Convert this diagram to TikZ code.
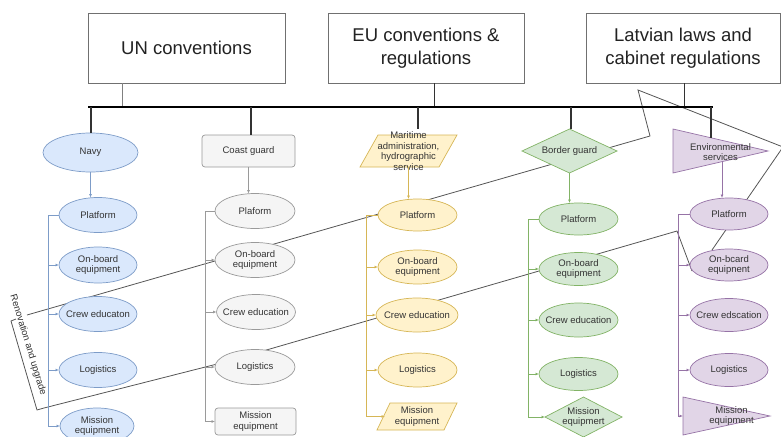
\documentclass[tikz,border=0pt]{standalone}
\usepackage{fontspec}
\setmainfont{Liberation Sans}
\usetikzlibrary{shapes.geometric,arrows.meta,calc}
\definecolor{bluef}{HTML}{DAE8FC}\definecolor{blued}{HTML}{7D9CC8}
\definecolor{grayf}{HTML}{F5F5F5}\definecolor{grayd}{HTML}{9A9A9A}
\definecolor{yelf}{HTML}{FFF2CC}\definecolor{yeld}{HTML}{D6B656}
\definecolor{grnf}{HTML}{D5E8D4}\definecolor{grnd}{HTML}{82B366}
\definecolor{purf}{HTML}{E1D5E7}\definecolor{purd}{HTML}{9673A6}
\definecolor{txtc}{HTML}{333333}\definecolor{toptxt}{HTML}{222222}
\definecolor{topd}{HTML}{707070}\definecolor{brkc}{HTML}{555555}
\definecolor{dropc}{HTML}{333333}
\begin{document}
\begin{tikzpicture}[x=1pt,y=-1pt,
  tx/.style={font=\fontsize{9.5}{10.5}\selectfont,text=txtc,align=center,inner sep=0pt},
  topbox/.style={draw=topd,line width=0.8pt,fill=white,font=\fontsize{18.5}{23}\selectfont,text=toptxt,align=center,inner sep=0pt},
  shp/.style={inner sep=0pt,outer sep=0pt,line width=0.7pt},
  ell/.style={shp,ellipse},
  ghost/.style={inner sep=0pt,outer sep=0pt},
  cA/.style={draw=blued,fill=bluef},
  cB/.style={draw=grayd,fill=grayf},
  cC/.style={draw=yeld,fill=yelf},
  cD/.style={draw=grnd,fill=grnf},
  cE/.style={draw=purd,fill=purf},
  lA/.style={draw=blued,line width=0.7pt},
  lB/.style={draw=grayd,line width=0.7pt},
  lC/.style={draw=yeld,line width=0.7pt},
  lD/.style={draw=grnd,line width=0.7pt},
  lE/.style={draw=purd,line width=0.7pt},
  tip/.style={-{Latex[length=3.5pt,width=3pt]}},
  brk/.style={draw=brkc,line width=0.8pt},
  bus/.style={line width=2.6pt,draw=black},
  drop/.style={line width=1.4pt,draw=dropc},
  updrop/.style={line width=0.9pt,draw=#1},
]
\useasboundingbox (0,0) rectangle (781,436);
\clip (0,0) rectangle (781,436);

% ---- renovation bracket (behind everything) ----
\coordinate (ta) at (27,315); \coordinate (tb) at (650,136);
\coordinate (tc) at (638,90); \coordinate (td) at (783,147);
\coordinate (te) at (712,250);
\coordinate (ka) at (16,319); \coordinate (kb) at (11,321);
\coordinate (kc) at (37,410); \coordinate (ba) at (44,408);
\coordinate (bm) at (225,362);
\coordinate (bb) at (677,231); \coordinate (bc) at (692,271);
\draw[brk] (ta) -- (tb) -- (tc) -- (td) -- (te);
\draw[brk] (ka) -- (kb) -- (kc) -- (ba) -- (bm) -- (bb) -- (bc);
\node[tx,rotate=-73] (ren) at (28,345) {Renovation and upgrade};

% ---- top boxes and bus ----
\node[topbox,minimum width=197pt,minimum height=70pt] (un) at (186.5,48) {UN conventions};
\node[topbox,minimum width=196pt,minimum height=70pt] (eu) at (426,48) {EU conventions \&\\regulations};
\node[topbox,minimum width=194pt,minimum height=70pt] (lv) at (683,48) {Latvian laws and\\cabinet regulations};
\coordinate (busL) at (88,107); \coordinate (busR) at (713,107);
\coordinate (u1) at (122,107); \coordinate (u2) at (434,107); \coordinate (u3) at (684,107);
\draw[updrop=gray] (u1 |- un.south) -- (u1);
\draw[updrop=dropc] (u2 |- eu.south) -- (u2);
\draw[updrop=dropc] (u3 |- lv.south) -- (u3);
\draw[bus] (busL) -- (busR);

% ---- heads ----
\node[ell,cA,minimum width=95pt,minimum height=39pt,label={[tx]center:Navy}] (navy) at (90.5,152.5) {};
\node[shp,cB,rounded corners=3pt,minimum width=93pt,minimum height=32pt,label={[tx]center:Coast guard}] (coast) at (248.5,151) {};
\node[ghost,minimum width=97pt,minimum height=32pt] (mar) at (408.5,151) {};
\filldraw[shp,cC] ($(mar.north west)+(18,0)$) -- (mar.north east) -- ($(mar.south east)-(18,0)$) -- (mar.south west) -- cycle;
\node[tx] (martx) at (mar.center) {Maritime\\administration,\\hydrographic\\service};
\node[shp,cD,diamond,minimum width=95pt,minimum height=44pt,label={[tx]center:Border guard}] (bord) at (569.5,151) {};
\node[ghost,minimum width=95pt,minimum height=44pt] (env) at (720.5,151) {};
\filldraw[shp,cE] (env.north west) -- (env.east) -- (env.south west) -- cycle;
\node[tx] (envtx) at ($(env.center)+(0,1)$) {Environmental\\services};

\coordinate (h1) at (91,107); \coordinate (h2) at (251,107); \coordinate (h3) at (418,107);
\coordinate (h4) at (571,107); \coordinate (h5) at (711,107);
\coordinate (h3e) at (418,129); \coordinate (h5e) at (711,138);
\draw[drop] (h1) -- (h1 |- navy.north);
\draw[drop] (h2) -- (h2 |- coast.north);
\draw[drop] (h3) -- (h3e);
\draw[drop] (h4) -- (h4 |- bord.north);
\draw[drop] (h5) -- (h5e);

% ---- column 1 (blue) ----
\node[ell,cA,minimum width=78pt,minimum height=35pt,label={[tx]center:Platform}] (p1) at (98,215) {};
\node[ell,cA,minimum width=78pt,minimum height=36pt,label={[tx]center:{On-board\\equipment}}] (o1) at (98,265) {};
\node[ell,cA,minimum width=78pt,minimum height=35pt,label={[tx]center:Crew educaton}] (e1) at (98,314) {};
\node[ell,cA,minimum width=78pt,minimum height=35pt,label={[tx]center:Logistics}] (g1) at (98,370) {};
\node[ell,cA,minimum width=74pt,minimum height=36pt,label={[tx]center:{Mission\\equipment}}] (m1) at (97,426) {};
\coordinate (v1) at (48,0);
\draw[lA,tip] (navy.south) -- (navy.south |- p1.north);
\draw[lA] (p1.west) -| (v1 |- m1.west);
\foreach \n in {o1,e1,g1,m1} \draw[lA,tip] (v1 |- \n.west) -- (\n.west);

% ---- column 2 (gray) ----
\node[ell,cB,minimum width=80pt,minimum height=35pt,label={[tx]center:Plaform}] (p2) at (255,211) {};
\node[ell,cB,minimum width=80pt,minimum height=35pt,label={[tx]center:{On-board\\equipment}}] (o2) at (255,260) {};
\node[ell,cB,minimum width=79pt,minimum height=35pt,label={[tx]center:Crew education}] (e2) at (256,312) {};
\node[ell,cB,minimum width=80pt,minimum height=35pt,label={[tx]center:Logistics}] (g2) at (255,367) {};
\node[shp,cB,rounded corners=3pt,minimum width=81pt,minimum height=27pt,label={[tx]center:{Mission\\equipment}}] (m2) at (255.5,421.5) {};
\coordinate (v2) at (205,0);
\draw[lB,tip] (coast.south) -- (coast.south |- p2.north);
\draw[lB] (p2.west) -| (v2 |- m2.west);
\foreach \n in {o2,e2,g2,m2} \draw[lB,tip] (v2 |- \n.west) -- (\n.west);

% ---- column 3 (yellow) ----
\node[ell,cC,minimum width=79pt,minimum height=32pt,label={[tx]center:Platform}] (p3) at (417.5,215) {};
\node[ell,cC,minimum width=79pt,minimum height=34pt,label={[tx]center:{On-board\\equipment}}] (o3) at (417.5,267) {};
\node[ell,cC,minimum width=82pt,minimum height=34pt,label={[tx]center:Crew education}] (e3) at (417,315) {};
\node[ell,cC,minimum width=79pt,minimum height=34pt,label={[tx]center:Logistics}] (g3) at (417.5,370) {};
\node[ghost,minimum width=80pt,minimum height=27pt] (m3) at (417,416.5) {};
\filldraw[shp,cC] ($(m3.north west)+(13,0)$) -- (m3.north east) -- ($(m3.south east)-(13,0)$) -- (m3.south west) -- cycle;
\node[tx] (m3tx) at (m3.center) {Mission\\equipment};
\coordinate (v3) at (366,0);
\draw[lC,tip] (mar.south) -- (mar.south |- p3.north);
\draw[lC] (p3.west) -| (v3 |- m3.west);
\foreach \n in {o3,e3,g3} \draw[lC,tip] (v3 |- \n.west) -- (\n.west);
\draw[lC,tip] (v3 |- m3.west) -- ($(m3.west)+(8,0)$);

% ---- column 4 (green) ----
\node[ell,cD,minimum width=79pt,minimum height=32pt,label={[tx]center:Platform}] (p4) at (578.5,219) {};
\node[ell,cD,minimum width=79pt,minimum height=33pt,label={[tx]center:{On-board\\equipment}}] (o4) at (578.5,269) {};
\node[ell,cD,minimum width=79pt,minimum height=34pt,label={[tx]center:Crew education}] (e4) at (578.5,320) {};
\node[ell,cD,minimum width=79pt,minimum height=33pt,label={[tx]center:Logistics}] (g4) at (578.5,374) {};
\node[shp,cD,diamond,minimum width=77pt,minimum height=40pt,label={[tx]center:{Mission\\equipmert}}] (m4) at (583.5,417) {};
\coordinate (v4) at (528,0);
\draw[lD,tip] (bord.south) -- (bord.south |- p4.north);
\draw[lD] (p4.west) -| (v4 |- m4.west);
\foreach \n in {o4,e4,g4,m4} \draw[lD,tip] (v4 |- \n.west) -- (\n.west);

% ---- column 5 (purple) ----
\node[ell,cE,minimum width=78pt,minimum height=32pt,label={[tx]center:Platform}] (p5) at (729,214) {};
\node[ell,cE,minimum width=78pt,minimum height=32pt,label={[tx]center:{On-bcard\\equipnent}}] (o5) at (729,265) {};
\node[ell,cE,minimum width=78pt,minimum height=33pt,label={[tx]center:Crew edscation}] (e5) at (729,315) {};
\node[ell,cE,minimum width=78pt,minimum height=33pt,label={[tx]center:Logistics}] (g5) at (729,370) {};
\node[ghost,minimum width=87pt,minimum height=38pt] (m5) at (726.5,416) {};
\filldraw[shp,cE] (m5.north west) -- (m5.east) -- (m5.south west) -- cycle;
\node[tx] (m5tx) at ($(m5.center)+(5,0)$) {Mission\\equipment};
\coordinate (v5) at (678,0);
\coordinate (envout) at (722,161.5);
\draw[lE,tip] (envout) -- (envout |- p5.north);
\draw[lE] (p5.west) -| (v5 |- m5.west);
\foreach \n in {o5,e5,g5,m5} \draw[lE,tip] (v5 |- \n.west) -- (\n.west);
\end{tikzpicture}
\end{document}
